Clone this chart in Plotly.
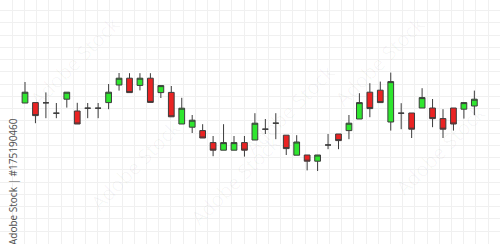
import plotly.graph_objects as go

# Session index for each candle
sessions = list(range(44))

open_ = [98.5, 98.7, 98.6, 93.4, 100.4, 94.5, 95.9, 95.9, 98.7, 107.5,
         110.9, 107.3, 110.9, 103.7, 103.8, 88.0, 86.4, 84.7, 78.7, 74.9,
         74.9, 78.7, 80.0, 85.4, 88.4, 82.4, 72.4, 72.5, 69.4, 77.5,
         83.0, 84.7, 90.5, 103.9, 104.9, 89.0, 93.4, 93.5, 96.0, 96.0,
         90.7, 96.0, 95.4, 97.0]
high = [109.0, 98.7, 103.8, 98.5, 103.9, 98.6, 98.5, 98.5, 108.0, 113.5,
        113.4, 113.4, 113.4, 107.2, 107.0, 101.1, 92.5, 87.9, 82.0, 87.9,
        82.0, 82.0, 93.4, 90.5, 93.4, 82.4, 82.4, 72.5, 72.5, 83.0,
        83.0, 92.5, 103.4, 108.4, 109.2, 113.7, 98.4, 93.5, 105.9, 100.5,
        95.4, 96.0, 98.7, 104.7]
low = [98.5, 88.4, 90.9, 90.9, 96.2, 88.0, 90.9, 90.9, 95.4, 104.7,
       103.7, 104.8, 98.8, 101.0, 91.6, 88.0, 83.5, 81.0, 71.9, 74.9,
       74.9, 71.7, 80.0, 83.0, 80.4, 72.5, 72.4, 64.8, 64.5, 75.4,
       75.4, 80.4, 90.5, 91.4, 98.7, 84.7, 85.4, 81.0, 96.0, 86.4,
       81.0, 84.7, 90.7, 92.4]
close = [103.9, 92.2, 98.6, 93.4, 103.9, 88.0, 95.9, 95.9, 103.9, 110.9,
         103.7, 110.9, 98.8, 107.2, 91.6, 95.9, 89.9, 81.0, 74.9, 78.7,
         78.7, 74.9, 88.4, 85.4, 88.4, 75.7, 79.0, 69.4, 72.5, 77.5,
         79.7, 88.4, 98.7, 95.7, 98.7, 109.2, 93.4, 85.4, 101.2, 90.7,
         85.4, 88.0, 98.7, 100.4]

stamp_text = "Adobe Stock | #175190460"
watermark_text = "Adobe Stock"

EDGE = "#3c3c3c"
GREEN = "#2fe62f"
RED = "#ea2323"
GRID = "#f0f0f0"

fig = go.Figure(
    go.Candlestick(
        x=sessions, open=open_, high=high, low=low, close=close,
        increasing=dict(line=dict(color=EDGE, width=1), fillcolor=GREEN),
        decreasing=dict(line=dict(color=EDGE, width=1), fillcolor=RED),
        whiskerwidth=0,
        hoverinfo="skip",
    )
)

annotations = [
    dict(text=stamp_text, xref="paper", yref="paper", x=12.5 / 500, y=1 - 181.5 / 244,
         showarrow=False, textangle=-90, xanchor="center", yanchor="middle",
         font=dict(family="Open Sans, DejaVu Sans, sans-serif", size=10, color="#4f4f4f")),
]
for (px, py) in [(75, 62), (135, 165), (235, 180), (380, 62), (440, 150), (290, 110)]:
    annotations.append(dict(
        text=watermark_text, xref="paper", yref="paper", x=px / 500, y=1 - py / 244,
        showarrow=False, textangle=-45, xanchor="center", yanchor="middle",
        font=dict(family="Open Sans, DejaVu Sans, sans-serif", size=20,
                  color="rgba(0,0,0,0.035)")))

fig.update_layout(
    width=500, height=244, autosize=False,
    margin=dict(l=0, r=0, t=0, b=0, pad=0),
    paper_bgcolor="white", plot_bgcolor="white",
    showlegend=False,
    boxgap=0.45, boxgroupgap=0,
    xaxis=dict(range=[-2.3923, 45.4545], showticklabels=False, ticks="",
               showgrid=True, gridcolor=GRID, gridwidth=1,
               tick0=-1.2153, dtick=1.16746, zeroline=False,
               showline=False, rangeslider=dict(visible=False), fixedrange=True),
    yaxis=dict(range=[28, 150], showticklabels=False, ticks="",
               showgrid=True, gridcolor=GRID, gridwidth=1,
               tick0=144.65, dtick=6.125, zeroline=False,
               showline=False, fixedrange=True),
    annotations=annotations,
)

fig.write_html("out.html")
